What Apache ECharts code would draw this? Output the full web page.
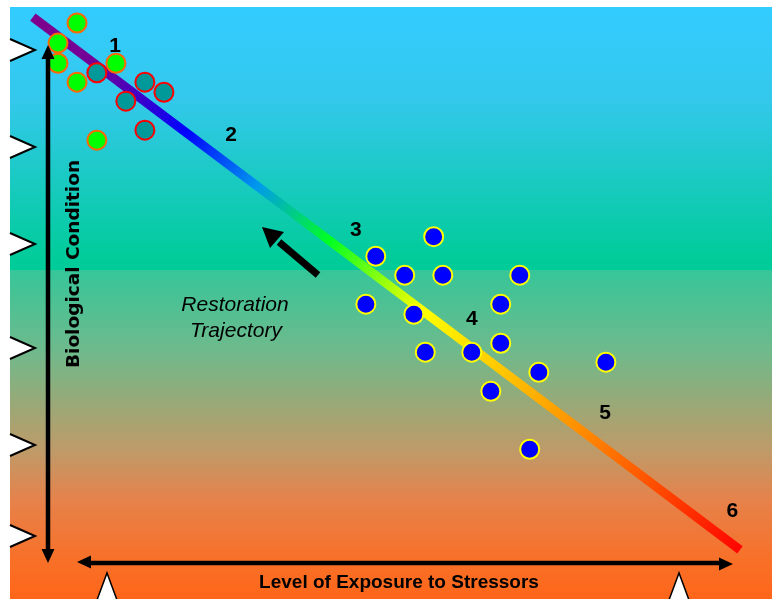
<!DOCTYPE html>
<html>
<head>
<meta charset="utf-8">
<script src="https://cdn.jsdelivr.net/npm/echarts@6/dist/echarts.min.js"></script>
<style>
html,body{margin:0;padding:0;background:#fff;}
#chart{width:772px;height:599px;}
</style>
</head>
<body>
<div id="chart"></div>
<script>
// Data (x: level of exposure 0-100, y: biological condition 0-100)
var referenceSites = [[8.8,97.3],[6.3,93.9],[6.3,90.5],[8.8,87.3],[13.9,90.5],[11.4,77.5]];
var restoredSites = [[11.4,88.9],[17.7,87.3],[20.2,85.6],[15.2,84.1],[17.7,79.2]];
var impairedSites = [[55.6,61.2],[48.0,57.9],[51.8,54.7],[56.8,54.7],[66.9,54.7],[46.7,49.8],
  [64.4,49.8],[53.0,48.1],[64.4,43.2],[54.5,41.7],[60.6,41.7],[69.4,38.3],[78.2,40.0],[63.1,35.1],[68.2,25.3]];
var trajectoryX = [3.0, 95.8];
var trajectoryY = [98.3, 8.3];
var stageLabels = ['1','2','3','4','5','6'];
var stageX = [13.8, 29.0, 45.4, 60.6, 78.1, 94.8];
var stageY = [93.4, 78.4, 62.3, 47.3, 31.4, 14.9];
var xTitle = 'Level of Exposure to Stressors';
var yTitle = 'Biological Condition';
var noteLines = ['Restoration', 'Trajectory'];

var chart = echarts.init(document.getElementById('chart'), null, {renderer: 'canvas'});

var trajectory = trajectoryX.map(function (x, i) { return [x, trajectoryY[i]]; });
var stages = stageLabels.map(function (s, i) { return {name: s, value: [stageX[i], stageY[i]]}; });

function leftWedge(y) {
  return [
    {type: 'polygon', z: 5, shape: {points: [[10, y - 11], [35, y], [10, y + 11]]}, style: {fill: '#fff', stroke: null}},
    {type: 'polyline', z: 6, shape: {points: [[10, y - 11], [35, y], [10, y + 11]]}, style: {stroke: '#000', lineWidth: 2, fill: null}}
  ];
}
function bottomWedge(x) {
  return [
    {type: 'polygon', z: 5, shape: {points: [[x - 10, 600], [x, 573], [x + 10, 600]]}, style: {fill: '#fff', stroke: null}},
    {type: 'polyline', z: 6, shape: {points: [[x - 10, 600], [x, 573], [x + 10, 600]]}, style: {stroke: '#000', lineWidth: 1.5, fill: null}}
  ];
}

var bg = {
  type: 'linear', x: 0, y: 0, x2: 0, y2: 1,
  colorStops: [
    {offset: 0, color: 'rgb(51,204,255)'},
    {offset: 0.157, color: 'rgb(51,200,235)'},
    {offset: 0.427, color: 'rgb(0,204,153)'},
    {offset: 0.4443, color: 'rgb(0,204,153)'},
    {offset: 0.4444, color: 'rgb(54,198,153)'},
    {offset: 0.5794, color: 'rgb(110,186,140)'},
    {offset: 0.6639, color: 'rgb(150,170,120)'},
    {offset: 0.7483, color: 'rgb(190,155,105)'},
    {offset: 0.8328, color: 'rgb(230,130,75)'},
    {offset: 0.9341, color: 'rgb(248,112,40)'},
    {offset: 1, color: 'rgb(255,102,25)'}
  ]
};

var elements = [
  {type: 'rect', z: -10, shape: {x: 10, y: 7, width: 762, height: 592}, style: {fill: bg}}
];
[50, 147, 244, 348, 445, 536].forEach(function (y) { elements = elements.concat(leftWedge(y)); });
[107, 679].forEach(function (x) { elements = elements.concat(bottomWedge(x)); });

// axis arrows
elements.push(
  {type: 'line', z: 6, shape: {x1: 48, y1: 56, x2: 48, y2: 551}, style: {stroke: '#000', lineWidth: 4.5}},
  {type: 'polygon', z: 6, shape: {points: [[48, 45], [41.5, 59], [54.5, 59]]}, style: {fill: '#000'}},
  {type: 'polygon', z: 6, shape: {points: [[48, 563], [41.5, 549], [54.5, 549]]}, style: {fill: '#000'}},
  {type: 'line', z: 6, shape: {x1: 89, y1: 563, x2: 721, y2: 563}, style: {stroke: '#000', lineWidth: 4.5}},
  {type: 'polygon', z: 6, shape: {points: [[77, 562], [91, 555.5], [91, 568.5]]}, style: {fill: '#000'}},
  {type: 'polygon', z: 6, shape: {points: [[733, 564], [719, 557.5], [719, 570.5]]}, style: {fill: '#000'}},
  // restoration arrow
  {type: 'line', z: 6, shape: {x1: 318, y1: 275, x2: 279, y2: 242}, style: {stroke: '#000', lineWidth: 7}},
  {type: 'polygon', z: 6, shape: {points: [[262, 227], [270, 248], [284, 232]]}, style: {fill: '#000'}},
  // texts
  {type: 'text', z: 7, x: 399, y: 583, style: {text: xTitle, font: 'bold 19px "Liberation Sans", Arial, sans-serif', fill: '#000', align: 'center', verticalAlign: 'middle'}},
  {type: 'text', z: 7, x: 74, y: 264, rotation: Math.PI / 2, style: {text: yTitle, font: 'bold 18.5px "DejaVu Sans", sans-serif', fill: '#000', align: 'center', verticalAlign: 'middle'}},
  {type: 'text', z: 7, x: 235, y: 305, style: {text: noteLines[0], font: 'italic 21px "Liberation Sans", Arial, sans-serif', fill: '#000', align: 'center', verticalAlign: 'middle'}},
  {type: 'text', z: 7, x: 236, y: 331, style: {text: noteLines[1], font: 'italic 21px "Liberation Sans", Arial, sans-serif', fill: '#000', align: 'center', verticalAlign: 'middle'}}
);

chart.setOption({
  animation: false,
  backgroundColor: '#fff',
  grid: {left: 10, top: 7, right: 0, bottom: 0, containLabel: false},
  xAxis: {type: 'value', min: 0, max: 100, show: false},
  yAxis: {type: 'value', min: 0, max: 100, show: false},
  graphic: {elements: elements},
  series: [
    {
      type: 'line', data: trajectory, symbol: 'none', z: 2, silent: true,
      lineStyle: {
        width: 9, cap: 'butt',
        color: {
          type: 'linear', x: 0, y: 0, x2: 1, y2: 1,
          colorStops: [
            {offset: 0, color: '#80008a'},
            {offset: 0.1, color: '#70009a'},
            {offset: 0.22, color: '#0000ff'},
            {offset: 0.32, color: '#0099ee'},
            {offset: 0.42, color: '#00ff22'},
            {offset: 0.55, color: '#ffff00'},
            {offset: 0.75, color: '#ff9900'},
            {offset: 1, color: '#ff0000'}
          ]
        }
      }
    },
    {
      type: 'scatter', data: referenceSites, symbol: 'circle', symbolSize: 19, z: 3,
      itemStyle: {color: '#00ff00', borderColor: '#ff6600', borderWidth: 2, opacity: 1}
    },
    {
      type: 'scatter', data: restoredSites, symbol: 'circle', symbolSize: 19, z: 3,
      itemStyle: {color: '#009999', borderColor: '#ff0000', borderWidth: 2, opacity: 1}
    },
    {
      type: 'scatter', data: impairedSites, symbol: 'circle', symbolSize: 19, z: 3,
      itemStyle: {color: '#0000ff', borderColor: '#ffff00', borderWidth: 2, opacity: 1}
    },
    {
      type: 'scatter', data: stages, symbolSize: 0, z: 4, silent: true,
      itemStyle: {color: '#000', opacity: 1},
      label: {
        show: true, position: 'inside', formatter: '{b}', opacity: 1,
        fontFamily: '"Liberation Sans", Arial, sans-serif', fontWeight: 'bold', fontSize: 21,
        color: '#000', textBorderWidth: 0, textBorderColor: 'transparent'
      }
    }
  ]
});
</script>
</body>
</html>
